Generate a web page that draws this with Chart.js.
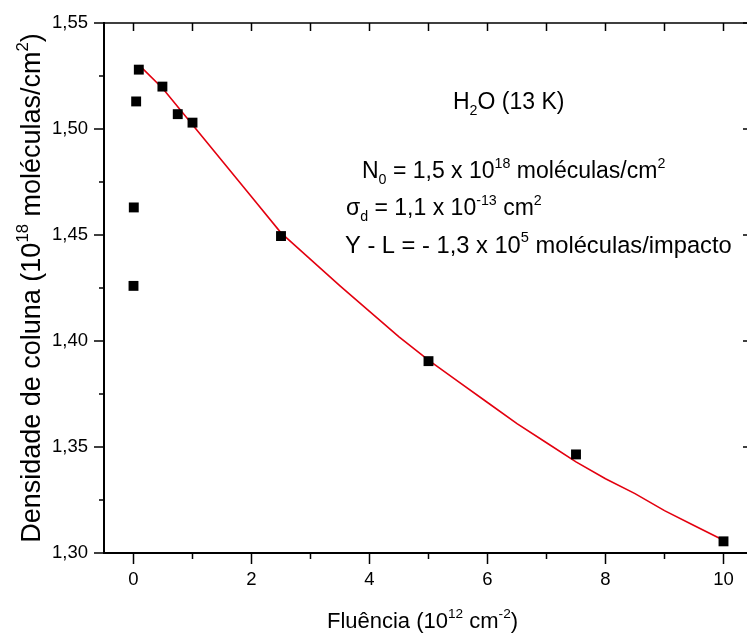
<!DOCTYPE html>
<html>
<head>
<meta charset="utf-8">
<script src="https://cdn.jsdelivr.net/npm/chart.js@4.4.0/dist/chart.umd.min.js"></script>
<style>
  html, body { margin: 0; padding: 0; background: #fff; overflow: hidden; }
</style>
</head>
<body>
<canvas id="chart" width="760" height="636"></canvas>
<script>
// Medidas (pontos pretos)
const fluence = [0, 0.005, 0.045, 0.09, 0.49, 0.75, 1.0, 2.5, 5.0, 7.5, 10.0];
const density = [1.426, 1.463, 1.513, 1.528, 1.520, 1.507, 1.503, 1.4495, 1.3905, 1.3465, 1.3055];

// Curva de ajuste (linha vermelha)
const fitX = [0.1, 0.5, 1.0, 1.5, 2.0, 2.5, 3.0, 3.5, 4.0, 4.5, 5.0, 5.5, 6.0, 6.5, 7.0, 7.5, 8.0, 8.5, 9.0, 9.5, 10.0];
const fitY = [1.530, 1.519, 1.502, 1.485, 1.468, 1.451, 1.4385, 1.426, 1.414, 1.402, 1.391, 1.381, 1.371, 1.361, 1.352, 1.343, 1.335, 1.328, 1.320, 1.313, 1.306];

// Eixos
const xTicks = [0, 2, 4, 6, 8, 10];
const xMinor = [1, 3, 5, 7, 9];
const yTicks = [1.30, 1.35, 1.40, 1.45, 1.50, 1.55];
const yMinor = [1.325, 1.375, 1.425, 1.475, 1.525];

const FONT = 'Arial, "Liberation Sans", sans-serif';

// texto com sub/sobrescritos: partes = [[texto, 'n'|'sup'|'sub'], ...]
function richWidth(ctx, parts, size) {
    let w = 0;
    parts.forEach(p => {
        const s = p[1] === 'n' ? size : size * 0.62;
        ctx.font = s + 'px ' + FONT;
        w += ctx.measureText(p[0]).width;
    });
    return w;
}

function drawRich(ctx, parts, x, y, size) {
    let cx = x;
    parts.forEach(p => {
        let s = size, dy = 0;
        if (p[1] === 'sup') { s = size * 0.62; dy = -size * 0.45; }
        if (p[1] === 'sub') { s = size * 0.62; dy = size * 0.28; }
        ctx.font = s + 'px ' + FONT;
        ctx.fillText(p[0], cx, y + dy);
        cx += ctx.measureText(p[0]).width;
    });
}

const framePlugin = {
    id: 'frame',
    afterDraw(chart) {
        const ctx = chart.ctx;
        const a = chart.chartArea;
        const xs = chart.scales.x, ys = chart.scales.y;
        ctx.save();
        ctx.strokeStyle = '#000';
        ctx.lineCap = 'butt';

        // linhas do quadro
        ctx.lineWidth = 2;
        ctx.beginPath();
        ctx.moveTo(a.left, a.top - 1);
        ctx.lineTo(a.left, a.bottom);
        ctx.lineTo(a.right, a.bottom);
        ctx.stroke();
        ctx.lineWidth = 1.5;
        ctx.beginPath();
        ctx.moveTo(a.left, a.top);
        ctx.lineTo(a.right, a.top);
        ctx.lineTo(a.right, a.bottom);
        ctx.stroke();

        ctx.lineWidth = 1.5;
        ctx.beginPath();
        // eixo y esquerdo: para fora
        yTicks.forEach(v => { const p = ys.getPixelForValue(v); ctx.moveTo(a.left - 10, p); ctx.lineTo(a.left, p); });
        yMinor.forEach(v => { const p = ys.getPixelForValue(v); ctx.moveTo(a.left - 5, p); ctx.lineTo(a.left, p); });
        // eixo y direito: para dentro
        yTicks.forEach(v => { const p = ys.getPixelForValue(v); ctx.moveTo(a.right - 10, p); ctx.lineTo(a.right, p); });
        yMinor.forEach(v => { const p = ys.getPixelForValue(v); ctx.moveTo(a.right - 5, p); ctx.lineTo(a.right, p); });
        // eixo x inferior: para fora
        xTicks.forEach(v => { const p = xs.getPixelForValue(v); ctx.moveTo(p, a.bottom); ctx.lineTo(p, a.bottom + 11); });
        xMinor.forEach(v => { const p = xs.getPixelForValue(v); ctx.moveTo(p, a.bottom); ctx.lineTo(p, a.bottom + 6); });
        // eixo x superior: para dentro
        xTicks.concat(xMinor).forEach(v => { const p = xs.getPixelForValue(v); ctx.moveTo(p, a.top); ctx.lineTo(p, a.top + 8); });
        ctx.stroke();

        ctx.fillStyle = '#000';
        ctx.textBaseline = 'alphabetic';
        ctx.textAlign = 'left';

        // título do eixo x
        const xt = [['Fluência (10', 'n'], ['12', 'sup'], [' cm', 'n'], ['-2', 'sup'], [')', 'n']];
        const xw = richWidth(ctx, xt, 22);
        drawRich(ctx, xt, (a.left + a.right) / 2 - 6 - xw / 2, 628, 22);

        // título do eixo y
        const yt = [['Densidade de coluna (10', 'n'], ['18', 'sup'], [' moléculas/cm', 'n'], ['2', 'sup'], [')', 'n']];
        const yw = richWidth(ctx, yt, 27);
        ctx.save();
        ctx.translate(40, (a.top + a.bottom) / 2);
        ctx.rotate(-Math.PI / 2);
        drawRich(ctx, yt, -yw / 2, 0, 27);
        ctx.restore();

        // anotações
        drawRich(ctx, [['H', 'n'], ['2', 'sub'], ['O (13 K)', 'n']], 453, 109, 23);
        drawRich(ctx, [['N', 'n'], ['0', 'sub'], [' = 1,5 x 10', 'n'], ['18', 'sup'], [' moléculas/cm', 'n'], ['2', 'sup']], 362, 178, 23);
        drawRich(ctx, [['σ', 'n'], ['d', 'sub'], [' = 1,1 x 10', 'n'], ['-13', 'sup'], [' cm', 'n'], ['2', 'sup']], 346, 215, 23);
        drawRich(ctx, [['Y - L = - 1,3 x 10', 'n'], ['5', 'sup'], [' moléculas/impacto', 'n']], 345, 253, 23.7);
        ctx.restore();
    }
};

new Chart(document.getElementById('chart'), {
    type: 'scatter',
    data: {
        datasets: [{
            label: 'Medidas',
            data: fluence.map((x, i) => ({ x: x, y: density[i] })),
            pointStyle: 'rect',
            pointRadius: 7,
            pointBorderWidth: 0,
            backgroundColor: '#000',
            borderColor: '#000'
        }, {
            label: 'Ajuste',
            data: fitX.map((x, i) => ({ x: x, y: fitY[i] })),
            showLine: true,
            borderColor: '#e3000f',
            borderWidth: 1.6,
            pointRadius: 0,
            tension: 0
        }]
    },
    options: {
        responsive: false,
        animation: false,
        devicePixelRatio: 1,
        layout: { padding: { top: 23, right: 7, left: 0, bottom: 0 } },
        plugins: {
            legend: { display: false },
            tooltip: { enabled: false }
        },
        scales: {
            x: {
                type: 'linear',
                min: -0.5,
                max: 10.5,
                grid: { display: false },
                border: { display: false },
                afterBuildTicks: s => { s.ticks = xTicks.map(v => ({ value: v })); },
                afterFit: s => { s.height = 83; },
                ticks: {
                    padding: 8,
                    color: '#000',
                    font: { family: FONT, size: 18.5 },
                    callback: v => String(v)
                }
            },
            y: {
                min: 1.30,
                max: 1.55,
                grid: { display: false },
                border: { display: false },
                afterBuildTicks: s => { s.ticks = yTicks.map(v => ({ value: v })); },
                afterFit: s => { s.width = 104; },
                ticks: {
                    padding: 8,
                    color: '#000',
                    font: { family: FONT, size: 18.5 },
                    callback: v => v.toFixed(2).replace('.', ',')
                }
            }
        }
    },
    plugins: [framePlugin]
});
</script>
</body>
</html>
